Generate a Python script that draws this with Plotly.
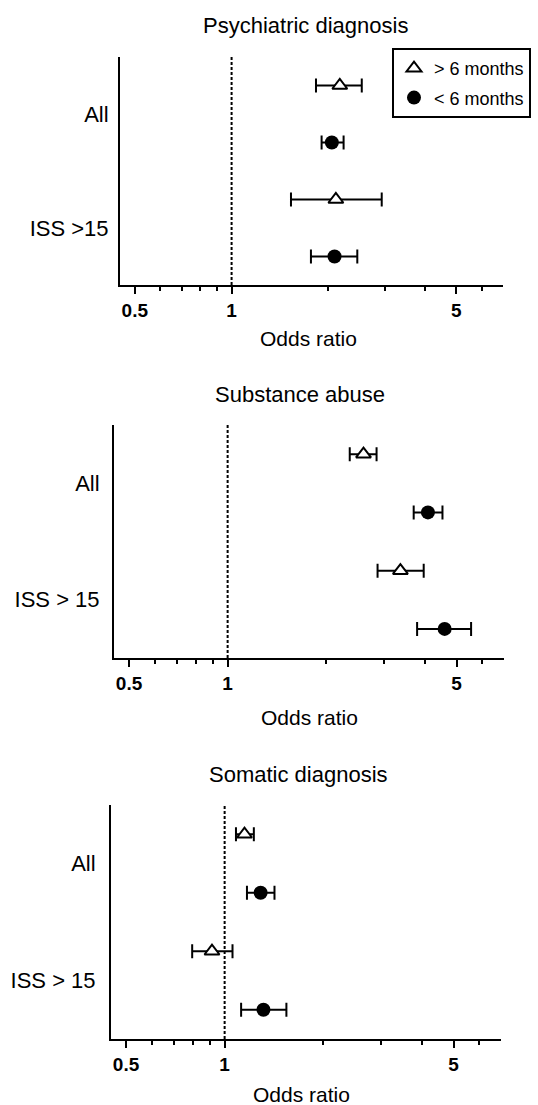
import plotly.graph_objects as go

# ---------------- data ----------------
panel_titles = ["Psychiatric diagnosis", "Substance abuse", "Somatic diagnosis"]
group_labels = [["All", "ISS >15"], ["All", "ISS > 15"], ["All", "ISS > 15"]]
series_names = ["> 6 months", "< 6 months"]

# odds ratios and 95% CI, per panel: [All, ISS>15]
gt6_or = [[2.17, 2.11], [2.60, 3.37], [1.15, 0.915]]
gt6_lo = [[1.83, 1.53], [2.36, 2.87], [1.083, 0.796]]
gt6_hi = [[2.54, 2.93], [2.85, 3.97], [1.228, 1.057]]

lt6_or = [[2.05, 2.09], [4.09, 4.60], [1.288, 1.314]]
lt6_lo = [[1.905, 1.765], [3.70, 3.79], [1.17, 1.123]]
lt6_hi = [[2.23, 2.46], [4.53, 5.54], [1.42, 1.544]]

x_tick_vals = [0.5, 1, 5]
x_tick_text = ["0.5", "1", "5"]
x_minor_vals = [0.6, 0.7, 0.8, 0.9, 2, 3, 4, 6]
reference_or = 1
x_title = "Odds ratio"

# ---------------- layout helpers ----------------
W, H = 538, 1105
FONT = "Liberation Sans, Arial, sans-serif"

# plot areas in pixels: (x0, x1, ytop, ybottom)
panel_px = [(120, 503, 57, 285), (114, 504, 425, 658), (111, 501, 805, 1039)]
title_px = [(305, 25), (300, 394), (298, 774)]
xtitle_px = [(308, 338), (309, 717), (301, 1094)]
ylab_standoff = [5, 8, 9]

def px_x(v):
    return v / W

def px_y(v):
    return 1 - v / H

fig = go.Figure()
annotations = []

for i in range(3):
    sfx = "" if i == 0 else str(i + 1)
    xa, ya = "x" + sfx, "y" + sfx
    # row positions: triangle rows on top of each group, circle below
    tri_rows = [4, 2]
    circ_rows = [3, 1]

    fig.add_trace(go.Scatter(
        x=[reference_or, reference_or], y=[0.5, 4.5], mode="lines",
        line=dict(color="black", width=2, dash="3px,2px"),
        showlegend=False, hoverinfo="skip", xaxis=xa, yaxis=ya))

    fig.add_trace(go.Scatter(
        x=gt6_or[i], y=tri_rows, mode="markers", name=series_names[0],
        legendgroup="g1", showlegend=(i == 0),
        marker=dict(symbol="triangle-up", size=13, color="white",
                    line=dict(color="black", width=2)),
        error_x=dict(type="data", symmetric=False,
                     array=[h - o for h, o in zip(gt6_hi[i], gt6_or[i])],
                     arrayminus=[o - l for o, l in zip(gt6_or[i], gt6_lo[i])],
                     color="black", thickness=2, width=7),
        xaxis=xa, yaxis=ya, cliponaxis=False))

    fig.add_trace(go.Scatter(
        x=lt6_or[i], y=circ_rows, mode="markers", name=series_names[1],
        legendgroup="g2", showlegend=(i == 0),
        marker=dict(symbol="circle", size=14, color="black",
                    line=dict(color="black", width=0)),
        error_x=dict(type="data", symmetric=False,
                     array=[h - o for h, o in zip(lt6_hi[i], lt6_or[i])],
                     arrayminus=[o - l for o, l in zip(lt6_or[i], lt6_lo[i])],
                     color="black", thickness=2, width=7),
        xaxis=xa, yaxis=ya, cliponaxis=False))

    x0, x1, yt, yb = panel_px[i]
    fig.layout["xaxis" + sfx] = dict(
        type="log", range=[-0.347, 0.844],
        domain=[px_x(x0), px_x(x1)], anchor=ya,
        showline=True, linewidth=2, linecolor="black",
        ticks="outside", ticklen=7, tickwidth=2, tickcolor="black",
        tickvals=x_tick_vals, ticktext=x_tick_text,
        tickfont=dict(family=FONT, size=19, color="black", weight="bold"),
        ticklabelstandoff=0,
        minor=dict(tickvals=x_minor_vals, ticks="outside", ticklen=4,
                   tickwidth=2, tickcolor="black", showgrid=False),
        showgrid=False, zeroline=False, fixedrange=True)
    fig.layout["yaxis" + sfx] = dict(
        range=[0.5, 4.5], domain=[px_y(yb), px_y(yt)], anchor=xa,
        showline=True, linewidth=2, linecolor="black",
        ticks="", tickvals=[3.5, 1.5], ticktext=group_labels[i],
        tickfont=dict(family=FONT, size=22, color="black"),
        ticklabelstandoff=ylab_standoff[i],
        showgrid=False, zeroline=False, fixedrange=True)

    tx, ty = title_px[i]
    annotations.append(dict(text=panel_titles[i], x=px_x(tx), y=px_y(ty),
                            xref="paper", yref="paper", showarrow=False,
                            xanchor="center", yanchor="middle",
                            font=dict(family=FONT, size=22, color="black")))
    ox, oy = xtitle_px[i]
    annotations.append(dict(text=x_title, x=px_x(ox), y=px_y(oy),
                            xref="paper", yref="paper", showarrow=False,
                            xanchor="center", yanchor="middle",
                            font=dict(family=FONT, size=21, color="black")))

fig.update_layout(
    width=W, height=H,
    margin=dict(l=0, r=0, t=0, b=0),
    paper_bgcolor="white", plot_bgcolor="white",
    font=dict(family=FONT, color="black"),
    annotations=annotations,
    legend=dict(x=px_x(392), y=px_y(48), xanchor="left", yanchor="top",
                bordercolor="black", borderwidth=2, bgcolor="white",
                font=dict(family=FONT, size=18, color="black"),
                traceorder="grouped", tracegroupgap=3, itemwidth=30),
    showlegend=True,
)

fig.write_html("out.html",
               config={"displayModeBar": False},
               post_script="document.body.style.margin='0';document.body.style.overflow='hidden';")
